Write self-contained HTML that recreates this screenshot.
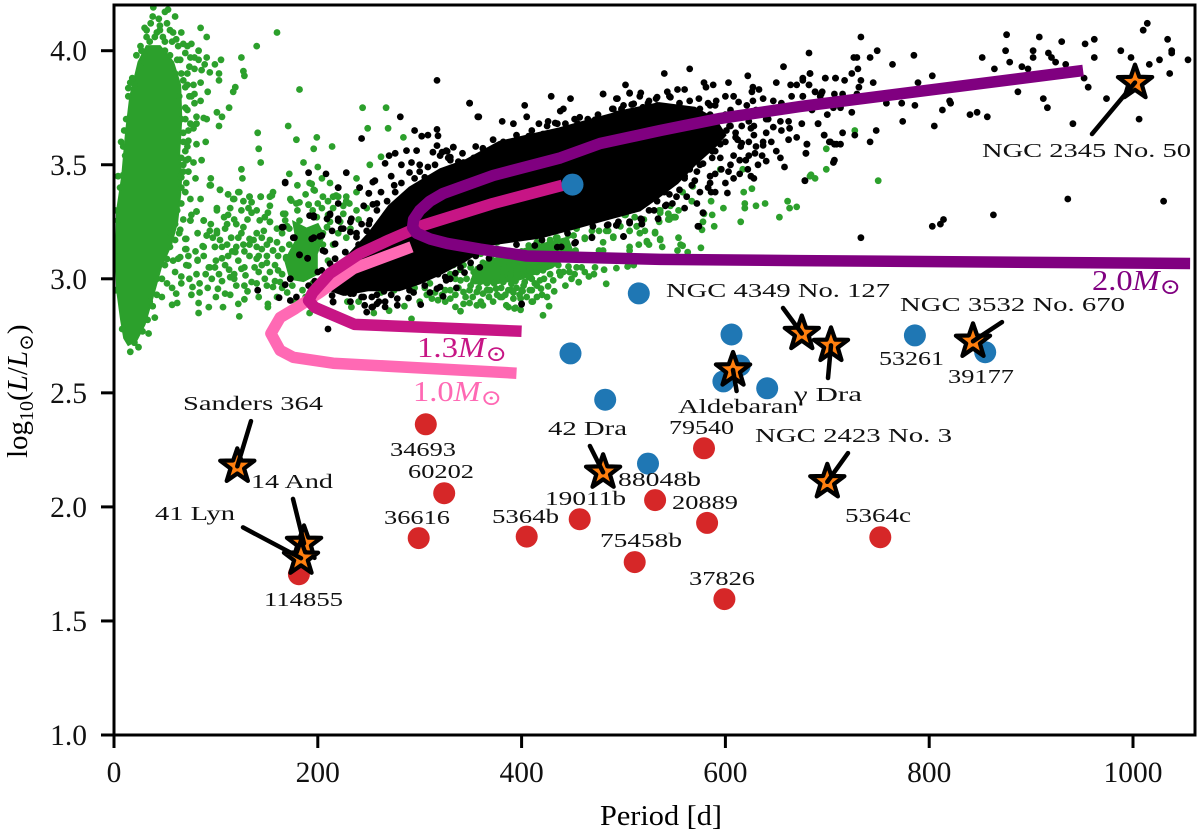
<!DOCTYPE html>
<html>
<head>
<meta charset="utf-8">
<title>Period-luminosity chart</title>
<style>
html,body{margin:0;padding:0;background:#fff;width:1200px;height:835px;overflow:hidden}
svg{display:block}
text{font-family:"Liberation Serif","DejaVu Serif",serif;fill:#000}
.ann{font-size:20.5px;fill:#111}
.tick{font-size:29.5px;fill:#111}
.mass{font-size:28px}
</style>
</head>
<body>
<svg id="chart" width="1200" height="835" viewBox="0 0 1200 835" xmlns="http://www.w3.org/2000/svg">
<defs><clipPath id="plot-clip"><rect x="114" y="5" width="1081" height="730"/></clipPath></defs>
<g id="layer-marks" clip-path="url(#plot-clip)"></g>
<g id="layer-axes"></g>
<g id="layer-labels">
<text class="ann" lengthAdjust="spacingAndGlyphs" x="666" y="297" textLength="224">NGC 4349 No. 127</text>
<text class="ann" lengthAdjust="spacingAndGlyphs" x="900" y="311" textLength="225">NGC 3532 No. 670</text>
<text class="ann" lengthAdjust="spacingAndGlyphs" x="982" y="157" textLength="209">NGC 2345 No. 50</text>
<text class="ann" lengthAdjust="spacingAndGlyphs" x="755" y="442" textLength="197">NGC 2423 No. 3</text>
<text class="ann" lengthAdjust="spacingAndGlyphs" x="879" y="365" textLength="65">53261</text>
<text class="ann" lengthAdjust="spacingAndGlyphs" x="948" y="383" textLength="66">39177</text>
<text class="ann" lengthAdjust="spacingAndGlyphs" x="678" y="413" textLength="120">Aldebaran</text>
<text class="ann" lengthAdjust="spacingAndGlyphs" x="794" y="401" textLength="68">γ Dra</text>
<text class="ann" lengthAdjust="spacingAndGlyphs" x="548" y="435" textLength="79">42 Dra</text>
<text class="ann" lengthAdjust="spacingAndGlyphs" x="669" y="434" textLength="65">79540</text>
<text class="ann" lengthAdjust="spacingAndGlyphs" x="618" y="486" textLength="83">88048b</text>
<text class="ann" lengthAdjust="spacingAndGlyphs" x="545" y="505" textLength="81">19011b</text>
<text class="ann" lengthAdjust="spacingAndGlyphs" x="672" y="509" textLength="66">20889</text>
<text class="ann" lengthAdjust="spacingAndGlyphs" x="845" y="522" textLength="66">5364c</text>
<text class="ann" lengthAdjust="spacingAndGlyphs" x="183" y="410" textLength="140">Sanders 364</text>
<text class="ann" lengthAdjust="spacingAndGlyphs" x="390" y="456" textLength="66">34693</text>
<text class="ann" lengthAdjust="spacingAndGlyphs" x="408" y="478" textLength="66">60202</text>
<text class="ann" lengthAdjust="spacingAndGlyphs" x="251" y="488" textLength="82">14 And</text>
<text class="ann" lengthAdjust="spacingAndGlyphs" x="155" y="520" textLength="80">41 Lyn</text>
<text class="ann" lengthAdjust="spacingAndGlyphs" x="384" y="524" textLength="66">36616</text>
<text class="ann" lengthAdjust="spacingAndGlyphs" x="492" y="523" textLength="67">5364b</text>
<text class="ann" lengthAdjust="spacingAndGlyphs" x="264" y="606" textLength="79">114855</text>
<text class="ann" lengthAdjust="spacingAndGlyphs" x="600" y="547" textLength="82">75458b</text>
<text class="ann" lengthAdjust="spacingAndGlyphs" x="689" y="585" textLength="66">37826</text>
<text class="mass" lengthAdjust="spacingAndGlyphs" textLength="90" x="417" y="357" style="fill:#c71585">1.3<tspan font-style="italic" style="fill:#c71585">M</tspan><tspan dy="4" font-size="22" style="fill:#c71585">⊙</tspan></text>
<text class="mass" lengthAdjust="spacingAndGlyphs" textLength="89" x="413" y="401" style="fill:#ff69b4">1.0<tspan font-style="italic" style="fill:#ff69b4">M</tspan><tspan dy="4" font-size="22" style="fill:#ff69b4">⊙</tspan></text>
<text class="mass" lengthAdjust="spacingAndGlyphs" textLength="89" x="1092" y="290" style="fill:#800080">2.0<tspan font-style="italic" style="fill:#800080">M</tspan><tspan dy="4" font-size="22" style="fill:#800080">⊙</tspan></text>
<text lengthAdjust="spacingAndGlyphs" x="600" y="825" font-size="28" textLength="122">Period [d]</text>
<text transform="translate(27,458) rotate(-90)" font-size="29">log<tspan dy="6" font-size="20">10</tspan><tspan dy="-6">(</tspan><tspan font-style="italic">L</tspan>/<tspan font-style="italic">L</tspan><tspan dy="6" font-size="20">⊙</tspan><tspan dy="-6">)</tspan></text>
</g>
</svg>
<script>
// ---- Axis ticks ----
const xTickValues = [0, 200, 400, 600, 800, 1000];
const xTickLabels = ["0", "200", "400", "600", "800", "1000"];
const yTickValues = [1.0, 1.5, 2.0, 2.5, 3.0, 3.5, 4.0];
const yTickLabels = ["1.0", "1.5", "2.0", "2.5", "3.0", "3.5", "4.0"];

// ---- Model tracks [period, log L] ----
const track10 = [[292,3.14],[262,3.09],[235,3.045],[202,2.94],[178,2.87],[163,2.83],[154,2.76],[163,2.686],[176,2.656],[215,2.63],[395,2.586]];
const track13 = [[440,3.41],[372,3.33],[303,3.234],[270,3.17],[241,3.11],[212,3.024],[195,2.94],[191,2.905],[197,2.875],[236,2.80],[400,2.77]];
const track20 = [[951,3.913],[673,3.755],[595,3.703],[536,3.65],[477,3.593],[438,3.53],[372,3.453],[323,3.374],[310,3.34],[300,3.30],[294,3.26],[293,3.225],[297,3.20],[310,3.175],[327,3.155],[359,3.13],[405,3.10],[536,3.085],[673,3.08],[1056,3.067]];

// ---- Large circles ----
const bluePeriods = [450,515,448,482,606,614,598,641,524,786,855];
const blueLums = [3.413,2.936,2.673,2.47,2.756,2.62,2.55,2.52,2.19,2.752,2.678];
const redPeriods = [306,324,299,405,457,181.5,579,531,582,752,511,599];
const redLums = [2.362,2.06,1.863,1.87,1.946,1.705,2.257,2.03,1.93,1.867,1.758,1.596];

// ---- Stars and leader tails ----
const starPeriods = [121,186.5,183.5,480,607.5,675,703.6,843,700,1002];
const starLums = [2.178,1.84,1.775,2.152,2.6,2.76,2.708,2.726,2.11,3.86];
const tailPeriods = [134.4,175.7,126.6,467,611,656.5,700.7,871.4,720.3,959.8];
const tailLums = [2.376,2.035,1.91,2.267,2.508,2.872,2.565,2.81,2.236,3.635];

// ---- Dense regions (outlines) ----
const greenCoreOutline = [[10,2.74],[14,2.71],[22,2.73],[30,2.8],[38,2.92],[46,3.05],[56,3.15],[62,3.25],[65,3.37],[66,3.45],[64,3.55],[66,3.7],[65,3.85],[58,3.95],[45,4.02],[32,4.02],[24,3.95],[16,3.8],[12,3.65],[8,3.45],[3,3.3],[2,3.1],[3,2.95],[7,2.82]];
const greenClusterOutline = [[176,3.25],[189,3.22],[200,3.24],[206,3.19],[199,3.11],[199,3.02],[186,2.99],[173,3.0],[168,3.08],[179,3.17]];
const greenLowerOutline = [[350,2.98],[375,2.98],[400,3.0],[430,3.05],[450,3.12],[445,3.18],[410,3.14],[380,3.1],[355,3.05]];
const blackCoreOutline = [[212,2.95],[225,3.08],[250,3.2],[270,3.32],[290,3.4],[320,3.48],[345,3.52],[378,3.6],[437,3.66],[470,3.7],[503,3.74],[535,3.77],[570,3.75],[590,3.7],[600,3.63],[590,3.58],[570,3.5],[553,3.42],[535,3.36],[516,3.3],[483,3.26],[451,3.22],[418,3.18],[369,3.15],[345,3.08],[320,3.02],[300,2.98],[280,2.95],[250,2.95],[225,2.93]];

// ---- Scatter: green giants ----
const greenOuter = [[38.6,4.19],[38,4.15],[53,4.18],[60,4.15],[32,4.09],[45,4.11],[91,4.06],[85,4.10],[160,4.08],[140,4.02],[125,3.97],[105,3.96],[99,3.94],[127,3.91],[128,3.89],[103,3.90],[103,3.87],[119,3.84],[117,3.82],[182,3.83],[113,3.75],[101,3.73],[106,3.71],[103,3.67],[91,3.70],[171,3.67],[141,3.64],[244,3.75],[267,3.75],[249,3.66],[269,3.66],[284,3.62],[179,3.61],[199,3.62],[196,3.57],[214,3.58],[142,3.57],[144,3.51],[186,3.51],[200,3.49],[125,3.48],[172,3.46],[126,3.44],[95,3.44],[95,3.41],[104,3.39],[112,3.37],[123,3.38],[118,3.35],[133,3.36],[144,3.36],[156,3.38],[153,3.36],
[16,3.86],[14,3.836],[9,3.58],[11,3.54],[9,3.455],[4,3.256],[68,4.03],[61,4.05],[57,4.04],[50,4.04],[55,4.09],[45,4.09],[35,4.04],[27,4.0],[26,3.93],[65,3.96],[75,3.97],[79,3.97],[83,4.0],[91,3.97],[79,3.92],[86,3.915],[89,3.94],[94,3.905],[68,3.87],[78,3.85],[79,3.81],[76,3.80],[79,3.77],[81,3.71],[88,3.705],[75,3.68],[81,3.68],[78,3.66],[68,3.64],[73,3.605],[70,3.56],[81,3.59],[73,3.525],[78,3.51],[68,3.50],[73,3.47],[60,3.46],[66,3.445],[71,3.42],[66,3.40],[81,3.295],[75,3.255],[88,3.255],[65,3.215],[71,3.175],[60,3.17],[71,3.13],[52,3.087],[65,3.095],[73,3.058],[82,3.083],[94,3.05],[99,3.05],[99,3.14],
[60,3.9],[70,3.75],[66,3.7],[72,3.85],[50,4.0],[40,4.06],[30,3.98],[20,3.85],[12,3.7],[6,3.4],[2,3.15],[5,2.95],[12,2.8],[60,3.3],[55,3.2],[48,3.1],[42,3.0],[35,2.9],[27,2.8]];
const greenCoreFringe = [[30,4.1],[36,4.12],[42,4.08],[48,4.06],[52,4.12],[58,4.08],[63,4.02],[70,3.99],[72,4.02],[74,3.93],[66,3.9],[70,3.84],[74,3.8],[72,3.74],[70,3.7],[73,3.65],[68,3.6],[72,3.58],[66,3.53],[68,3.47],[62,3.42],[70,3.38],[66,3.33],[62,3.3],[60,3.24],[56,3.2],[55,3.14],[50,3.06],[47,3.0],[42,2.93],[38,2.88],[33,2.82],[28,2.77],[20,2.72],[8,2.78],[2,2.95],[0.5,3.1],[1,3.3],[4,3.45],[7,3.6],[10,3.65],[14,3.8],[18,3.88],[22,3.98],[26,4.02],[32,4.06],[85,3.86],[92,3.82],[85,3.78],[90,3.6],[86,3.52],[80,3.44],[85,3.35],[75,3.35],[68,3.26],[55,3.98],[62,3.96],[44,4.14],[50,4.17],[66,4.08],[76,4.03],[83,3.96],[72,3.9],[64,3.8],[71,3.52],[64,3.2],[58,3.08],[52,2.98],[47,2.92],[40,2.83],[34,2.76],[24,2.7],[16,2.68]];
const greenLeftCloud = [[94,3.41],[104,3.39],[112,3.37],[122,3.38],[117,3.35],[127,3.34],[133,3.36],[144,3.36],[155,3.365],[153,3.32],[151,3.29],[135,3.336],[132,3.31],[135,3.29],[114,3.31],[112,3.28],[118,3.26],[101,3.31],[101,3.30],[81,3.295],[76,3.28],[75,3.256],[88,3.256],[131,3.26],[143,3.256],[153,3.25],[168,3.285],[168,3.256],[174,3.343],[179,3.33],[191,3.325],[205,3.36],[215,3.36],[197,3.387],[194,3.416],[94,3.21],[101,3.2],[91,3.19],[97,3.18],[109,3.22],[120,3.24],[125,3.2],[122,3.18],[133,3.175],[140,3.2],[147,3.21],[153,3.17],[150,3.15],[111,3.15],[106,3.14],[87,3.143],[70,3.175],[70,3.13],[99,3.14],[133,3.15],[140,3.14],[119,3.117],[112,3.10],[106,3.09],[88,3.10],[82,3.08],[63,3.088],[71,3.06],[93,3.05],[99,3.05],[109,3.06],[122,3.08],[125,3.044],[133,3.10],[140,3.088],[145,3.06],[153,3.03],[161,3.037],[156,3.124],[161,3.10],[169,3.088],[66,3.01],[81,3.02],[96,3.0],[106,2.99],[114,3.007],[129,3.015],[135,2.986],[150,2.97],[156,2.964],[163,2.986],[66,2.98],[84,2.98],[77,2.964],[76,2.93],[84,2.94],[61,2.935],[57,2.96],[102,2.956],[109,2.935],[114,2.93],[131,2.945],[83,2.894],[62,2.894],[57,2.886],[93,2.876],[107,2.876],[122,2.89],[151,2.89],[151,2.876],[83,2.85],[123,2.835],[160,2.92],[192,2.85],[233,2.876],[218,3.365],[228,3.34],[238,3.30],[225,3.285],[204,3.31],
[192,3.42],[196,3.39],[204,3.44],[212,3.42],[220,3.36],[238,3.44],[251,3.50],[262,3.535],[228,3.36],[238,3.38],[173,3.35],[182,3.335],[191,3.325],[199,3.27],[182,3.255],[166,3.285],[153,3.25],[127,3.226],[137,3.17],[120,3.14],[156,3.124],[169,3.095],[101,3.21],[91,3.19],[111,3.24],[209,3.226],[215,3.31],[231,3.33],[248,3.31],[165,3.2],[172,3.15],[160,3.16],[215,3.15],[205,3.15],[210,3.08],[205,3.0],[165,3.02],[175,2.97],[185,2.95],[195,2.98],[220,3.2],[228,3.18],[235,3.1],[215,3.02],[158,3.06],[150,3.1],[145,3.13],[180,3.3],[195,3.3],[210,3.28],[128,3.12],[115,3.18],[104,3.17],[88,3.14],[80,3.12],
[170,3.23],[160,3.22],[148,3.27],[140,3.3],[125,3.3],[108,3.27],[95,3.24],[82,3.2],[116,3.12],[127,3.15],[145,3.18],[142,3.03],[148,3.0],[128,3.05],[118,3.02],[100,3.08],[90,3.02],[74,3.0],[92,2.96],[120,2.97],[140,2.98],[142,2.92],[128,2.91],[100,2.92],[170,2.94],[178,2.9],[188,2.92],[165,2.96],[158,2.99],[165,3.13],[175,3.11],[205,3.2],[212,3.25],[222,3.25],[232,3.22],[240,3.26],[225,3.32],[210,3.34],[188,3.37],[180,3.41],[200,3.33],[172,3.22],[181,3.2],[193,3.2],[150,3.07],[138,3.05],[118,3.0],[128,2.97],[142,3.1],[113,3.04],[103,3.02],[73,3.1],[60,3.03]];
const greenLowerCloud = [[307,2.93],[312,2.913],[318,2.906],[325,2.90],[330,2.913],[335,2.877],[340,2.858],[292,2.824],[343,2.942],[349,2.95],[356,2.942],[362,2.935],[369,2.95],[375,2.957],[356,2.884],[362,2.884],[372,2.9],[379,2.92],[385,2.884],[393,2.87],[390,2.95],[400,2.95],[408,2.95],[410,2.9],[343,2.89],[349,2.894],[366,2.98],[359,2.986],[353,2.993],[346,3.0],[340,2.993],[375,3.008],[382,2.986],[389,3.015],[398,3.044],[408,3.015],[415,3.03],[382,3.05],[372,3.044],[362,3.03],[353,3.03],[366,3.066],[350,3.05],[335,3.0],[325,2.95],[300,2.9],[285,2.88],[270,2.86],[255,2.85],[262,2.94],[275,2.95],[295,2.96],[240,2.9],[229,2.9],
[428,3.16],[434,3.18],[421,3.146],[407,3.146],[376,3.16],[451,3.19],[462,3.18],[483,3.21],[490,3.18],[501,3.28],[506,3.21],[516,3.2],[523,3.16],[536,3.175],[536,3.3],[544,3.285],[549,3.27],[524,3.38],[519,3.42],[506,3.14],[513,3.23],[480,3.16],[531,3.2],
[551,3.27],[544,3.26],[536,3.29],[531,3.205],[521,3.21],[513,3.23],[506,3.21],[502,3.28],[492,3.30],[490,3.185],[485,3.21],[476,3.21],[469,3.21],[462,3.175],[480,3.124],[476,3.124],[515,3.15],[506,3.124],[523,3.165],[525,3.15],[536,3.17],[538,3.14],[554,3.18],[556,3.15],[558,3.145],[553,3.124],[563,3.117],[576,3.136],[453,3.124],[454,3.22],[446,3.19],[577,3.215],
[454,3.05],[446,3.054],[481,3.04],[493,3.047],[504,3.054],[510,3.06],[471,3.02],[466,3.01],[456,2.985],[449,3.0],[443,2.97],[483,2.978],[441,3.03],[438,3.015],[432,2.945],[426,2.967],[419,2.957],[427,2.88],[421,2.84],[411,2.90],[410,2.95],[401,2.946],[418,2.993],[431,2.993],[428,3.02],[421,3.037],[415,3.044],[408,3.037],[402,3.037],[395,3.044],[389,3.02],[390,2.978],[395,2.96],[403,2.985],[407,3.007],[397,3.007],[399,2.913],[392,2.913],[394,2.873],[387,2.876],[399,2.864],[381,2.92],[381,3.007],[382,3.066],[413,2.98],[418,3.073],[428,3.058],[428,3.17],[435,3.18],[430,3.14],[440,3.16],[415,3.16],[400,3.12],[370,3.1],[360,3.11],[390,3.09],
[330,2.95],[338,2.96],[345,2.92],[352,2.92],[360,2.9],[368,2.92],[376,2.93],[384,2.93],[392,2.94],[398,2.93],[405,2.92],[415,2.92],[420,2.93],[425,2.92],[415,2.97],[422,3.0],[410,3.0],[402,2.97],[394,2.99],[387,2.95],[380,2.96],[373,2.98],[366,2.95],[358,2.96],[350,2.97],[335,2.93],[322,2.93],[315,2.94],[305,2.96],[310,2.98],[330,3.02],[340,3.04],[392,3.06],[403,3.08],[412,3.08],[423,3.09],[432,3.1],[440,3.1],[447,3.09],[436,3.06],[412,3.06],[437,3.03],[447,3.03],[452,3.02],[462,3.03],[472,3.05],[459,3.05],[380,3.1],[362,3.07],[372,3.08],[343,3.06],[333,3.06]];
const greenRight = [[727,3.65],[699,3.57],[699,3.48],[683,3.45],[688,3.44],[750,3.43],[684,3.456],[670,3.315],[663,3.31],[661,3.34],[653,3.27],[639,3.33],[630,3.32],[619,3.33],[619,3.31],[626,3.395],[618,3.38],[615,3.25],[598,3.31],[589,3.23],[587,3.28],[586,3.34],[579,3.285],[578,3.25],[568,3.405],[567,3.34],[554,3.30],[550,3.27],[544,3.285],[545,3.26],[535,3.25],[535,3.30],[520,3.26],[511,3.27],[502,3.28],[497,3.23],[617,3.48],[595,3.48],[570,3.56],[520,3.43],[524,3.39],[546,3.32],[558,3.38]];

// ---- Scatter: black giants ----
const blackEdge = [[168,3.424],[220,3.40],[241,3.40],[250,3.375],[254,3.424],[220,3.33],[245,3.32],[254,3.326],[192,3.277],[196,3.277],[212,3.285],[209,3.263],[165,3.226],[176,3.18],[194,3.175],[202,3.186],[214,3.21],[220,3.263],[233,3.263],[243,3.24],[225,3.22],[232,3.205],[217,3.153],[227,3.117],[207,3.12],[182,3.105],[190,3.09],[212,3.066],[217,3.088],[204,3.037],[173,3.0],[168,2.974],[141,2.95],[162,2.917],[173,2.905],[179,2.92],[191,2.97],[197,2.99],[251,3.256],[254,3.2],[238,3.183],[248,3.21],[245,3.15],
[214,2.927],[232,2.935],[243,2.92],[248,2.854],[253,2.876],[258,2.89],[215,2.898],[210,2.78],[215,2.90],[227,2.94],[235,2.935],[245,2.92],[246,2.884],[254,2.877],[253,2.92],[258,2.93],[266,2.9],[266,2.877],[278,2.884],[278,2.913],[289,2.916],[301,2.887],[294,2.94],[282,2.964],[265,2.945],[317,2.957],[320,2.964],[323,2.923],[336,2.96],[326,2.993],[325,3.008],[335,3.025],[344,3.027],[318,3.02],[359,3.05],[350,3.07],[368,3.09],[400,2.888],[271,2.98],
[168,3.42],[191,3.465],[208,3.46],[228,3.465],[256,3.43],[241,3.40],[220,3.40],[250,3.375],[317,3.87],[349,3.77],[357,3.71],[281,3.71],[243,3.615],[295,3.65],[302,3.625],[308,3.63],[317,3.655],[318,3.627],[317,3.584],[333,3.577],[326,3.562],[362,3.57],[367,3.547],[287,3.562],[297,3.562],[276,3.55],[270,3.54],[266,3.506],[282,3.50],[292,3.51],[300,3.50],[320,3.54],[313,3.555],[328,3.53],[343,3.51],[353,3.53],[308,3.49],[320,3.46],[290,3.466],[272,3.45],[282,3.42],[305,3.445],[330,3.445],[276,3.38],[268,3.34],[285,3.36],[297,3.386],[313,3.386],[333,3.40],[305,3.36],[258,3.33],[166,3.226],[177,3.18],[182,3.105],[190,3.09],[196,3.27],[212,3.28],[220,3.255],[196,3.18],[204,3.19],[223,3.22],[232,3.25],[238,3.2],[217,3.153],[205,3.124],[227,3.117],[173,3.0],
[349,3.77],[358,3.71],[381,3.69],[392,3.68],[403,3.76],[405,3.71],[417,3.68],[429,3.80],[448,3.79],[438,3.735],[441,3.745],[426,3.69],[433,3.683],[425,3.67],[443,3.68],[407,3.625],[421,3.635],[431,3.642],[382,3.60],[390,3.584],[362,3.572],[367,3.548],[379,3.562],[333,3.577],[327,3.559],[322,3.555],[330,3.533],[338,3.514],[353,3.529],[349,3.50],[335,3.464],[333,3.43],[320,3.44],[480,3.81],[493,3.79],[506,3.813],[490,3.745],[493,3.723],[516,3.80],[533,3.796],[546,3.796],[498,3.745],[510,3.767],[519,3.752],[452,3.70],[457,3.708],[465,3.70],[472,3.697],[480,3.686],[452,3.156],[534,3.263],[542,3.324],[517,3.263],[506,3.244],[493,3.234],[485,3.237],[500,3.185],[469,3.183],
[400,2.89],[453,3.16],[469,3.18],[493,3.234],[500,3.186],[506,3.25],[518,3.24],[534,3.263],[578,3.289],[574,3.23],[435,3.139],[439,3.14],[413,3.146],[370,3.2],[355,3.15],[330,3.1],[310,3.05],[290,3.02],[265,2.99],[240,2.98],[300,3.12],[280,3.1],[275,3.2],[260,3.1],[250,3.05],
[205,2.96],[200,3.03],[210,3.0],[220,3.03],[232,3.07],[240,3.15],[250,3.24],[258,3.3],[262,3.38],[275,3.41],[295,3.44],[300,3.47],[315,3.5],[330,3.52],[342,3.55],[355,3.58],[372,3.61],[395,3.63],[410,3.65],[435,3.68],[455,3.68],[475,3.72],[500,3.76],[525,3.78],[232,2.9],[260,2.9],[272,2.93],[290,2.95],[305,2.97],[310,2.94],[330,3.0],[340,3.05],[355,3.1],[375,3.13],[395,3.15],[420,3.17],[445,3.2],[470,3.23],[495,3.25],[525,3.3],[545,3.37],[560,3.44],[575,3.5],[590,3.56],[600,3.6],[605,3.67],[600,3.72],[585,3.76],[615,3.58],[605,3.5],[590,3.46],[610,3.62],[625,3.66],[640,3.7],[650,3.74],[670,3.76],[685,3.74],[700,3.72],[655,3.65],[645,3.6],[630,3.58],[650,3.56],[670,3.62],[675,3.68],[640,3.64],[620,3.52],[600,3.42],[585,3.42],[575,3.38],[562,3.36],[548,3.33],[560,3.31],[572,3.33],[590,3.38]];
const blackUpperBand = [[480,3.81],[502,3.85],[540,3.90],[565,3.92],[494,3.79],[506,3.815],[517,3.815],[532,3.79],[543,3.82],[545,3.80],[553,3.83],[560,3.83],[579,3.86],[588,3.85],[581,3.84],[603,3.86],[622,3.89],[627,3.84],[626,3.82],[633,3.83],[650,3.86],[657,3.93],[664,3.85],[670,3.85],[676,3.88],[683,3.90],[682,3.85],[698,3.88],[708,3.88],[688,3.82],[694,3.81],[665,3.80],[676,3.80],[647,3.78],[655,3.77],[637,3.79],[627,3.78],[621,3.76],[608,3.80],[613,3.775],[600,3.80],[591,3.78],[583,3.77],[574,3.79],[565,3.78],[555,3.77],[575,3.745],[565,3.72],[553,3.74],[542,3.74],[533,3.76],[524,3.77],[508,3.764],[489,3.745],[498,3.74],[506,3.72],[518,3.70],[531,3.72],[544,3.70],[590,3.76],[605,3.74],[618,3.72],[570,3.70],[555,3.72],[585,3.72],[600,3.70],[630,3.74],[645,3.73],[660,3.75],
[642,3.70],[647,3.665],[654,3.69],[663,3.66],[662,3.69],[662,3.61],[691,3.68],[697,3.63],[703,3.60],[709,3.59],[680,3.59],[679,3.55],[707,3.52],[678,3.43],[654,3.53],[658,3.49],[628,3.67],[623,3.69],[637,3.60],[637,3.585],[628,3.63],[623,3.60],[616,3.67],[610,3.64],[601,3.65],[604,3.67],[612,3.61],[616,3.595],[593,3.62],[591,3.60],[595,3.59],[587,3.64],[581,3.64],[575,3.61],[565,3.63],[557,3.60],[582,3.575],[587,3.56],[577,3.565],[608,3.54],[623,3.54],[629,3.55],[636,3.54],[640,3.516],[632,3.50],[622,3.48],[614,3.52],[595,3.53],[587,3.53],[578,3.505],[596,3.48],[603,3.47],[608,3.44],[614,3.46],[625,3.45],[628,3.44],[585,3.45],[572,3.47],[565,3.48],[570,3.43],[583,3.40],[586,3.38],[602,3.376],[560,3.45],[555,3.39],[552,3.36],[567,3.41],[578,3.29],[573,3.23],
[541,3.32],[533,3.34],[518,3.24],[506,3.25],[493,3.235],[484,3.235],[518,3.26],[511,3.34],[526,3.37],[531,3.40],[542,3.42],[547,3.46],[555,3.475],[562,3.50],[569,3.53],[554,3.52],[547,3.56],[526,3.44],[575,3.68],[590,3.66],[560,3.65],[575,3.55],[560,3.55],[550,3.5],[540,3.38],[530,3.3],[565,3.58],[580,3.6]];
const blackTail = [[733,4.06],[682,3.99],[749,4.0],[729,3.97],[726,3.97],[742,3.97],[785,3.98],[764,3.94],[730,3.92],[724,3.90],[683,3.90],[676,3.87],[698,3.88],[708,3.88],[717,3.87],[733,3.87],[745,3.86],[682,3.85],[731,3.84],[688,3.82],[695,3.82],[707,3.81],[715,3.81],[676,3.80],[693,3.80],[729,3.81],[758,3.77],[773,3.77],[786,3.76],[706,3.75],[713,3.75],[724,3.73],[691,3.68],[774,3.69],[748,3.65],[805,3.67],[715,3.64],[697,3.63],[727,3.63],[702,3.60],[707,3.59],[713,3.59],[742,3.60],[680,3.59],[679,3.55],[706,3.51],[678,3.43],[733,3.18],[803,3.23],[811,3.24],[814,3.26],[863,3.28],[936,3.35],[1030,3.34],[803,3.89],[789,3.86],[820,3.78],[821,3.77],[813,3.74],[840,3.72],[847,3.73],[857,3.71],[852,3.97],[864,3.92],[876,4.07],[875,4.0],[879,3.95],[891,3.93],[897,3.92],[902,4.0],[902,3.97],[908,4.06],[917,3.99],[920,3.97],[924,3.95],[930,4.04],[934,3.94],[953,4.03],[962,4.05],[962,3.97],[952,3.88],[956,3.84],[887,3.82],[912,3.79],[916,3.75],[941,3.68],[974,3.79],[988,4.0],[998,3.97],[1016,3.94],[1026,3.96],[1010,4.09],[1014,4.12],[1034,4.05],[1038,4.0],[1038,3.99],[1036,3.90],[1054,3.96],[1006,3.70]];

// ---- Axis functions ----
const SVG_NS = 'http://www.w3.org/2000/svg';
function xScale(v){ return 114 + v * 1.019; }
function yScale(v){ return 735 - (v - 1) * 228.1; }
const marks = document.getElementById('layer-marks');
const axes = document.getElementById('layer-axes');

function pointsAttr(pairs){
  return pairs.map(function(p){ return xScale(p[0]).toFixed(1) + ',' + yScale(p[1]).toFixed(1); }).join(' ');
}
function drawDots(pairs, color, name){
  const g = document.createElementNS(SVG_NS, 'g');
  
  
  g.setAttribute('fill', color);
  pairs.forEach(function(p){
    const c = document.createElementNS(SVG_NS, 'circle');
    c.setAttribute('cx', xScale(p[0]).toFixed(1));
    c.setAttribute('cy', yScale(p[1]).toFixed(1));
    c.setAttribute('r', '3.4');
    g.appendChild(c);
  });
  marks.appendChild(g);
}
function drawRegion(pairs, color, name){
  const poly = document.createElementNS(SVG_NS, 'polygon');
  
  
  poly.setAttribute('points', pointsAttr(pairs));
  poly.setAttribute('fill', color);
  poly.setAttribute('stroke', color);
  poly.setAttribute('stroke-width', '2');
  marks.appendChild(poly);
}
function drawTrack(pairs, color, name){
  const line = document.createElementNS(SVG_NS, 'polyline');
  
  
  line.setAttribute('points', pointsAttr(pairs));
  line.setAttribute('fill', 'none');
  line.setAttribute('stroke', color);
  line.setAttribute('stroke-width', '11.5');
  line.setAttribute('stroke-linejoin', 'round');
  marks.appendChild(line);
}
function drawDiscs(xs, ys, color, name){
  xs.forEach(function(x, i){
    const c = document.createElementNS(SVG_NS, 'circle');
    
    
    c.setAttribute('cx', xScale(x).toFixed(1));
    c.setAttribute('cy', yScale(ys[i]).toFixed(1));
    c.setAttribute('r', '11');
    c.setAttribute('fill', color);
    marks.appendChild(c);
  });
}
function starPath(cx, cy, R){
  const inner = R * 0.4;
  const pts = [];
  for (let i = 0; i < 10; i++) {
    const a = -Math.PI / 2 + i * Math.PI / 5;
    const r = i % 2 ? inner : R;
    pts.push((cx + r * Math.cos(a)).toFixed(1) + ',' + (cy + r * Math.sin(a)).toFixed(1));
  }
  return pts.join(' ');
}

// green population, then black population, then tracks, then discs, stars
drawRegion(greenCoreOutline, '#2ca02c', 'green-dense-core');
drawRegion(greenClusterOutline, '#2ca02c', 'green-cluster');
drawRegion(greenLowerOutline, '#2ca02c', 'green-lower-cluster');
drawDots(greenOuter, '#2ca02c', 'green-outer-points');
drawDots(greenCoreFringe, '#2ca02c', 'green-core-fringe');
drawDots(greenLeftCloud, '#2ca02c', 'green-left-cloud');
drawDots(greenLowerCloud, '#2ca02c', 'green-lower-cloud');
drawDots(greenRight, '#2ca02c', 'green-right-points');
drawRegion(blackCoreOutline, '#000000', 'black-dense-core');
drawDots(blackEdge, '#000000', 'black-edge-points');
drawDots(blackUpperBand, '#000000', 'black-upper-band');
drawDots(blackTail, '#000000', 'black-tail-points');
drawTrack(track10, '#ff69b4', 'track-1-0-msun');
drawTrack(track13, '#c71585', 'track-1-3-msun');
drawTrack(track20, '#800080', 'track-2-0-msun');
drawDiscs(bluePeriods, blueLums, '#1f77b4', 'blue-star-point');
drawDiscs(redPeriods, redLums, '#d62728', 'red-star-point');

starPeriods.forEach(function(x, i){
  const s = document.createElementNS(SVG_NS, 'polygon');
  
  
  s.setAttribute('points', starPath(xScale(x), yScale(starLums[i]), 18));
  s.setAttribute('fill', '#ff7f0e');
  s.setAttribute('stroke', '#000');
  s.setAttribute('stroke-width', '4.2');
  s.setAttribute('stroke-linejoin', 'round');
  marks.appendChild(s);
});
tailPeriods.forEach(function(x, i){
  const l = document.createElementNS(SVG_NS, 'line');
  
  
  l.setAttribute('x1', xScale(x).toFixed(1));
  l.setAttribute('y1', yScale(tailLums[i]).toFixed(1));
  l.setAttribute('x2', xScale(starPeriods[i]).toFixed(1));
  l.setAttribute('y2', yScale(starLums[i]).toFixed(1));
  l.setAttribute('stroke', '#000');
  l.setAttribute('stroke-width', '4.5');
  l.setAttribute('stroke-linecap', 'round');
  marks.appendChild(l);
});

// frame
const frame = document.createElementNS(SVG_NS, 'rect');


frame.setAttribute('x', '114');
frame.setAttribute('y', '5');
frame.setAttribute('width', '1081');
frame.setAttribute('height', '730');
frame.setAttribute('fill', 'none');
frame.setAttribute('stroke', '#000');
frame.setAttribute('stroke-width', '3');
axes.appendChild(frame);

xTickValues.forEach(function(v, i){
  const t = document.createElementNS(SVG_NS, 'line');
  
  
  t.setAttribute('x1', xScale(v));
  t.setAttribute('x2', xScale(v));
  t.setAttribute('y1', '735');
  t.setAttribute('y2', '748');
  t.setAttribute('stroke', '#000');
  t.setAttribute('stroke-width', '3');
  axes.appendChild(t);
  const lab = document.createElementNS(SVG_NS, 'text');
  
  
  lab.setAttribute('class', 'tick');
  lab.setAttribute('x', xScale(v));
  lab.setAttribute('y', '782');
  lab.setAttribute('text-anchor', 'middle');
  lab.textContent = xTickLabels[i];
  axes.appendChild(lab);
});
yTickValues.forEach(function(v, i){
  const t = document.createElementNS(SVG_NS, 'line');
  
  
  t.setAttribute('x1', '101');
  t.setAttribute('x2', '114');
  t.setAttribute('y1', yScale(v));
  t.setAttribute('y2', yScale(v));
  t.setAttribute('stroke', '#000');
  t.setAttribute('stroke-width', '3');
  axes.appendChild(t);
  const lab = document.createElementNS(SVG_NS, 'text');
  
  
  lab.setAttribute('class', 'tick');
  lab.setAttribute('x', '87');
  lab.setAttribute('y', yScale(v) + 10);
  lab.setAttribute('text-anchor', 'end');
  lab.textContent = yTickLabels[i];
  axes.appendChild(lab);
});
</script>
</body>
</html>
